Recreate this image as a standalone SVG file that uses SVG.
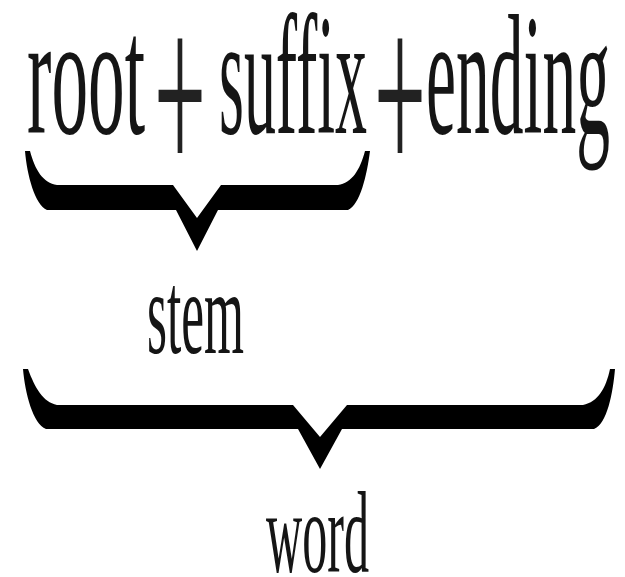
<svg xmlns="http://www.w3.org/2000/svg" width="625" height="577" viewBox="0 0 625 577">
<style>
  .t { font-family: "Liberation Serif", "Times New Roman", serif; fill: #151515; }
  .op { font-family: "Liberation Serif", "Times New Roman", serif; fill: #222; }
  .brace { fill: #000; stroke: none; }
</style>
<rect width="625" height="577" fill="#fff"/>
<g id="formula">
  <text class="t" x="27" y="133" font-size="172" textLength="118" lengthAdjust="spacingAndGlyphs">root</text>
  <text class="op" x="154" y="178" font-size="245" textLength="52" lengthAdjust="spacingAndGlyphs">+</text>
  <text class="t" x="219" y="133" font-size="172" textLength="148" lengthAdjust="spacingAndGlyphs">suffix</text>
  <text class="op" x="374" y="178" font-size="245" textLength="52" lengthAdjust="spacingAndGlyphs">+</text>
  <text class="t" x="426" y="133" font-size="172" textLength="184" lengthAdjust="spacingAndGlyphs">ending</text>
</g>
<g id="stem-brace">
  <path class="brace" d="M 25 151 C 27 175 35 205 47 210 L 176 210 L 197 251 L 218 210 L 348 210 C 360 205 367 175 370 151 L 365 151 C 360 170 352 183 338 185 L 221 185 L 197 218 L 173 185 L 57 185 C 43 183 35 170 30 151 Z"/>
</g>
<g id="stem">
  <text class="t" x="147" y="353" font-size="118" textLength="97" lengthAdjust="spacingAndGlyphs">stem</text>
</g>
<g id="word-brace">
  <path class="brace" d="M 23 369 C 25 393 33 424 46 429 L 298 429 L 320 469 L 342 429 L 594 429 C 607 424 613 393 615 369 L 610 369 C 606 388 598 402 583 405 L 347 405 L 320 437 L 293 405 L 57 405 C 43 402 35 388 28 369 Z"/>
</g>
<g id="word">
  <text class="t" x="266" y="572" font-size="117" textLength="103" lengthAdjust="spacingAndGlyphs">word</text>
</g>
</svg>
